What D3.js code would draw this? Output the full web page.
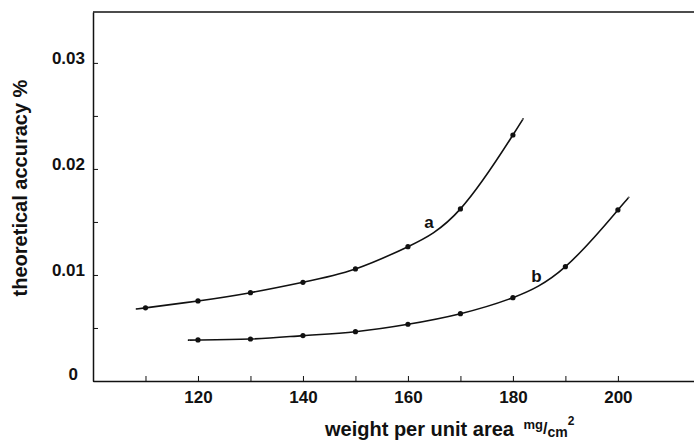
<!DOCTYPE html>
<html><head><meta charset="utf-8">
<script src="https://cdn.jsdelivr.net/npm/d3@7"></script>
<style>
body{margin:0;background:#fff;}
text{font-family:"Liberation Sans",Arial,sans-serif;fill:#111;}
</style></head>
<body><svg id="c" width="694" height="446"></svg>
<script>
// Data
const weights = [110,120,130,140,150,160,170,180];
const accuracyA = [0.0069,0.00755,0.00833,0.00931,0.01057,0.01267,0.01623,0.0232];
const weightsB = [120,130,140,150,160,170,180,190,200];
const accuracyB = [0.00387,0.00396,0.00428,0.00465,0.00535,0.00635,0.00786,0.01078,0.01613];
// fitted-curve extents (drawn slightly beyond the measured points)
const curveStartA = [108.4,0.0068], curveEndA = [181.9,0.0247];
const curveStartB = [118.3,0.00385], curveEndB = [202.1,0.0173];
const xTicks = [120,140,160,180,200];
const xMinor = [110,130,150,170,190];
const yTicks = [0,0.01,0.02,0.03];
const yMinor = [0.005,0.015,0.025];
const yTickLabels = ["0","0.01","0.02","0.03"];
const curveLabels = [{t:"a",x:164,y:0.0144},{t:"b",x:184.5,y:0.0093}];

const svg = d3.select("#c");
const x = d3.scaleLinear().domain([100,214.5]).range([93,694]);
const y = d3.scaleLinear().domain([0,0.0348]).range([381,12]);

// top border
svg.append("line").attr("x1",93).attr("x2",694).attr("y1",y(0.0348)).attr("y2",y(0.0348))
  .attr("stroke","#111").attr("stroke-width",1.5);

const xAxis = svg.append("g").attr("transform",`translate(0,${y(0)})`)
  .call(d3.axisBottom(x).tickValues(xTicks).tickSizeInner(-5).tickSizeOuter(0).tickPadding(10));
xAxis.selectAll(".tick text").style("font-size","17px").style("font-weight","bold").style("fill","#111");
xAxis.select(".domain").attr("stroke","#111").attr("stroke-width",1.5);
xAxis.selectAll(".tick line").attr("stroke","#111");
svg.append("g").attr("transform",`translate(0,${y(0)})`)
  .call(d3.axisBottom(x).tickValues(xMinor).tickSizeInner(-5).tickSizeOuter(0).tickFormat(""))
  .call(g=>g.select(".domain").remove()).selectAll("line").attr("stroke","#111");

const yAxis = svg.append("g").attr("transform",`translate(${x(100)},0)`)
  .call(d3.axisLeft(y).tickValues(yTicks).tickSizeInner(-5).tickSizeOuter(0).tickPadding(8)
    .tickFormat((d,i)=>yTickLabels[i]));
yAxis.selectAll(".tick text").style("font-size","17px").style("font-weight","bold").style("fill","#111")
  .attr("dy","0.05em");
yAxis.selectAll(".tick").filter(d=>d===0).select("text").attr("x",-15).attr("dy","-0.1em");
yAxis.select(".domain").attr("stroke","#111").attr("stroke-width",1.5);
yAxis.selectAll(".tick line").attr("stroke","#111");
svg.append("g").attr("transform",`translate(${x(100)},0)`)
  .call(d3.axisLeft(y).tickValues(yMinor).tickSizeInner(-5).tickSizeOuter(0).tickFormat(""))
  .call(g=>g.select(".domain").remove()).selectAll("line").attr("stroke","#111");

const line = d3.line().x(d=>x(d[0])).y(d=>y(d[1])).curve(d3.curveNatural);
const ptsA = weights.map((w,i)=>[w,accuracyA[i]]);
const ptsB = weightsB.map((w,i)=>[w,accuracyB[i]]);
[[curveStartA,...ptsA,curveEndA],[curveStartB,...ptsB,curveEndB]].forEach(p=>{
  svg.append("path").attr("d",line(p)).attr("fill","none").attr("stroke","#111").attr("stroke-width",1.6);
});
[ptsA,ptsB].forEach(p=>{
  svg.selectAll(null).data(p).enter().append("circle")
    .attr("cx",d=>x(d[0])).attr("cy",d=>y(d[1])).attr("r",2.6).attr("fill","#111");
});
svg.selectAll(".cl").data(curveLabels).enter().append("text")
  .attr("x",d=>x(d.x)).attr("y",d=>y(d.y)).attr("text-anchor","middle")
  .style("font-size","17px").style("font-weight","bold").text(d=>d.t);

// axis titles
svg.append("text").attr("transform","translate(27,188) rotate(-90)").attr("text-anchor","middle")
  .style("font-size","20px").style("font-weight","bold").text("theoretical accuracy %");
const xt = svg.append("text").attr("x",325).attr("y",436).style("font-size","20px").style("font-weight","bold");
xt.append("tspan").text("weight per unit area ");
xt.append("tspan").attr("dx","4").attr("dy","-7").style("font-size","13px").text("mg");
xt.append("tspan").attr("dy","5").style("font-size","16px").text("/");
xt.append("tspan").attr("dy","3").style("font-size","14px").text("cm");
xt.append("tspan").attr("dy","-12").style("font-size","12px").text("2");
</script></body></html>
